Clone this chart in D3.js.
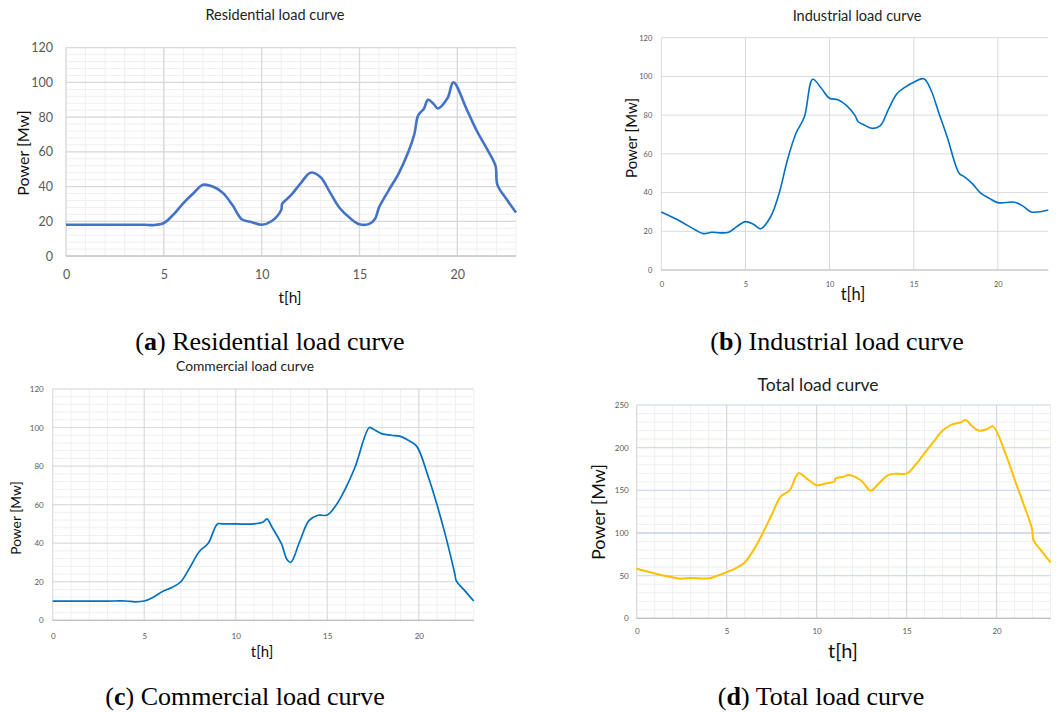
<!DOCTYPE html>
<html>
<head>
<meta charset="utf-8">
<script src="https://cdn.jsdelivr.net/npm/d3@7"></script>
<style>
  body { margin: 0; background: #fff; }
  svg { display: block; }
  .tick text { font-family: Lato, "Open Sans", sans-serif; fill: #595959; }
</style>
</head>
<body>
<svg id="chart" width="1057" height="713"></svg>
<script>
// hourly load readings (t in hours, P in MW)
var resHours = [0, 1, 2, 3, 4, 4.5, 5, 5.5, 6, 6.5, 7, 7.5, 8, 8.5, 9, 9.5, 10, 10.5, 11, 11.05, 11.5, 12, 12.5, 13, 13.5, 14, 14.5, 15, 15.5, 15.8, 16, 16.5, 17, 17.5, 17.8, 18, 18.3, 18.5, 18.8, 19, 19.5, 19.8, 20.5, 21, 21.5, 21.95, 22.05, 22.5, 23];
var resLoad  = [18, 18, 18, 18, 18, 17.8, 19, 24, 30.5, 36, 41, 40, 36.5, 29.5, 21, 19.5, 18, 20, 26.5, 30, 35, 42, 48, 45.5, 36.5, 27.5, 22, 18.3, 18.5, 21.5, 28, 38, 47.5, 60, 70, 81, 85, 90, 87.5, 85, 91, 100, 84, 72, 62, 52, 41, 33, 25];

var indHours = [0, 1, 2, 2.5, 3, 3.5, 4, 4.5, 5, 5.5, 5.9, 6.5, 7, 7.5, 8, 8.5, 9, 9.5, 10, 10.5, 11, 11.5, 11.7, 12, 12.5, 13, 13.5, 14, 14.5, 15, 15.6, 16, 16.5, 17, 17.7, 18, 18.5, 19, 19.5, 20, 21, 21.5, 22, 23];
var indLoad  = [30, 25.8, 20.8, 18.8, 19.5, 19.2, 19.5, 22.5, 25, 23.5, 21.3, 27.5, 39.5, 57, 70.5, 79, 98.5, 94, 88.7, 88, 85, 80, 76.6, 75.2, 73.2, 74.4, 83, 91, 94.5, 97, 98.8, 93.5, 81, 68.5, 50, 48.2, 44.5, 39.6, 37, 34.8, 35, 33, 30, 31];

var comHours = [0, 1, 2, 3, 4, 4.5, 5, 5.5, 6, 6.5, 7, 7.5, 8, 8.5, 9, 9.3, 10, 11, 11.5, 11.7, 12, 12.5, 12.8, 13, 13.5, 14, 14.5, 15, 15.5, 16, 16.5, 17.3, 17.5, 18, 18.5, 19, 19.5, 19.9, 20.5, 21, 21.5, 21.97, 22.05, 22.5, 23];
var comLoad  = [10, 10, 10, 10, 10, 9.6, 10, 12, 15, 17, 20, 27.5, 35.6, 40, 50, 50, 50, 50, 51, 52.6, 48, 39.6, 31.5, 30, 41, 51.7, 54.5, 54.6, 60, 68.5, 79, 100, 99.2, 96.7, 96, 95.4, 93, 90.1, 75, 59.8, 42.5, 24, 20.5, 15.5, 10];

var totHours = [0, 1, 2, 2.5, 3, 4, 4.5, 5, 5.5, 6, 6.5, 7, 7.5, 8, 8.5, 9, 9.5, 10, 10.5, 11, 11.05, 11.5, 11.8, 12.5, 13, 13.5, 14, 14.5, 15, 15.5, 16, 16.5, 17, 17.5, 18, 18.3, 18.6, 19, 19.5, 19.8, 20.5, 21, 21.5, 21.97, 22.05, 22.5, 23];
var totLoad  = [58, 52.5, 48, 46.5, 47.3, 46.8, 50, 54, 58.5, 65.5, 80, 99.6, 121, 142.5, 150, 170, 163, 156, 158, 160.5, 164, 166, 168, 161, 149.6, 159, 168, 169.5, 169.5, 180, 193.5, 207, 220, 227, 229.7, 232.4, 226, 220, 222, 225, 193, 163, 134, 105, 92, 79, 65.6];

var xTicks = [0, 5, 10, 15, 20];
var yTicks120 = [0, 20, 40, 60, 80, 100, 120];
var yTicks250 = [0, 50, 100, 150, 200, 250];

var panelTitles = ["Residential load curve", "Industrial load curve", "Commercial load curve", "Total load curve"];
var captionKeys = ["a", "b", "c", "d"];

var svg = d3.select("#chart");

function drawPanel(o) {
	var g = svg.append("g");
	var x = d3.scaleLinear().domain([0, 23]).range([o.left, o.right]);
	var y = d3.scaleLinear().domain([0, o.yMax]).range([o.bottom, o.top]);

	// minor grid
	if (o.minorY) {
		g.selectAll(".minorY")
			.data(d3.range(0, o.yMax + 0.001, o.minorY))
		.enter().append("line")
			.attr("x1", o.left).attr("x2", o.right)
			.attr("y1", function(d){ return y(d); })
			.attr("y2", function(d){ return y(d); })
			.style("stroke", "#efefef").style("stroke-width", 1);
		g.selectAll(".minorX")
			.data(d3.range(0, 24))
		.enter().append("line")
			.attr("y1", o.top).attr("y2", o.bottom)
			.attr("x1", function(d){ return x(d); })
			.attr("x2", function(d){ return x(d); })
			.style("stroke", "#efefef").style("stroke-width", 1);
	}

	// major grid
	g.selectAll(".majorY")
		.data(o.yTicks)
	.enter().append("line")
		.attr("x1", o.left).attr("x2", o.right)
		.attr("y1", function(d){ return y(d); })
		.attr("y2", function(d){ return y(d); })
		.style("stroke", function(d){ return o.yGridColor(d); })
		.style("stroke-width", o.majorW);
	g.selectAll(".majorX")
		.data(xTicks)
	.enter().append("line")
		.attr("y1", o.top).attr("y2", o.bottom)
		.attr("x1", function(d){ return x(d); })
		.attr("x2", function(d){ return x(d); })
		.style("stroke", "#d9d9d9").style("stroke-width", o.majorW);

	// axis line along y = 0
	g.append("line")
		.attr("x1", o.left).attr("x2", o.right)
		.attr("y1", y(0)).attr("y2", y(0))
		.style("stroke", "#bfbfbf").style("stroke-width", 1.2);

	// ticks
	var xa = g.append("g")
		.attr("transform", "translate(0," + (o.bottom + o.xTickGap) + ")")
		.call(d3.axisBottom(x).tickValues(xTicks).tickSize(0).tickPadding(0));
	xa.select(".domain").remove();
	xa.selectAll("text").style("font-size", o.tickSize + "px");

	var ya = g.append("g")
		.attr("transform", "translate(" + (o.left - o.yTickGap) + ",0)")
		.call(d3.axisLeft(y).tickValues(o.yTicks).tickSize(0).tickPadding(0));
	ya.select(".domain").remove();
	ya.selectAll("text").style("font-size", o.tickSize + "px");

	// curve
	var line = d3.line()
		.x(function(d){ return x(d[0]); })
		.y(function(d){ return y(d[1]); })
		.curve(d3.curveCatmullRom.alpha(0.5));
	g.append("path")
		.datum(d3.zip(o.hours, o.load))
		.attr("d", line)
		.style("fill", "none")
		.style("stroke", o.color)
		.style("stroke-width", o.lineW)
		.style("stroke-linejoin", "round");

	// texts
	g.append("text")
		.attr("x", o.titleX).attr("y", o.titleY)
		.attr("text-anchor", "middle")
		.style("font-family", "Lato, 'Open Sans', sans-serif")
		.style("font-size", o.titleSize + "px")
		.style("fill", "#222")
		.text(o.title);
	g.append("text")
		.attr("transform", "translate(" + o.yLabX + "," + o.yLabY + ") rotate(-90)")
		.attr("text-anchor", "middle")
		.style("font-family", "Lato, 'Open Sans', sans-serif")
		.style("font-size", o.yLabSize + "px")
		.style("fill", "#111")
		.text("Power [Mw]");
	g.append("text")
		.attr("x", o.xLabX).attr("y", o.xLabY)
		.attr("text-anchor", "middle")
		.style("font-family", "Lato, 'Open Sans', sans-serif")
		.style("font-size", o.xLabSize + "px")
		.style("fill", "#111")
		.text("t[h]");

	// caption below the panel
	var cap = g.append("text")
		.attr("x", o.capX).attr("y", o.capY)
		.attr("text-anchor", "middle")
		.style("font-family", "'Liberation Serif', 'DejaVu Serif', serif")
		.style("font-size", "26px")
		.style("fill", "#000");
	cap.append("tspan").text("(");
	cap.append("tspan").style("font-weight", "bold").text(o.key);
	cap.append("tspan").text(") " + o.title);
}

var grayGrid = function(){ return "#d9d9d9"; };

drawPanel({
	hours: resHours, load: resLoad, title: panelTitles[0], key: captionKeys[0],
	left: 66, right: 516, top: 47.7, bottom: 256, yMax: 120, yTicks: yTicks120,
	minorY: 4, majorW: 1.3, yGridColor: grayGrid,
	color: "#4472c4", lineW: 2.6,
	tickSize: 12.5, xTickGap: 14, yTickGap: 13,
	titleX: 275, titleY: 20, titleSize: 14.5,
	yLabX: 29, yLabY: 153, yLabSize: 16,
	xLabX: 290, xLabY: 303, xLabSize: 15.5,
	capX: 270, capY: 350
});

drawPanel({
	hours: indHours, load: indLoad, title: panelTitles[1], key: captionKeys[1],
	left: 661.3, right: 1048.3, top: 37.7, bottom: 270, yMax: 120, yTicks: yTicks120,
	minorY: 0, majorW: 1, yGridColor: grayGrid,
	color: "#0070c0", lineW: 1.6,
	tickSize: 7.5, xTickGap: 12, yTickGap: 9,
	titleX: 857, titleY: 21, titleSize: 14.5,
	yLabX: 637, yLabY: 138, yLabSize: 15,
	xLabX: 853, xLabY: 300, xLabSize: 16.5,
	capX: 837, capY: 350
});

drawPanel({
	hours: comHours, load: comLoad, title: panelTitles[2], key: captionKeys[2],
	left: 52.7, right: 473.7, top: 389, bottom: 620.3, yMax: 120, yTicks: yTicks120,
	minorY: 4, majorW: 1, yGridColor: grayGrid,
	color: "#0070c0", lineW: 1.7,
	tickSize: 8, xTickGap: 13, yTickGap: 9,
	titleX: 245, titleY: 371, titleSize: 13.8,
	yLabX: 21, yLabY: 518, yLabSize: 13.8,
	xLabX: 262, xLabY: 657, xLabSize: 15,
	capX: 245, capY: 705
});

drawPanel({
	hours: totHours, load: totLoad, title: panelTitles[3], key: captionKeys[3],
	left: 636.7, right: 1050.5, top: 405, bottom: 618.3, yMax: 250, yTicks: yTicks250,
	minorY: 10, majorW: 1.2,
	yGridColor: function(d){ return d === 100 ? "#b4c3de" : "#d0dcf0"; },
	color: "#ffc000", lineW: 2,
	tickSize: 8, xTickGap: 10, yTickGap: 8,
	titleX: 818, titleY: 391, titleSize: 17.5,
	yLabX: 605, yLabY: 512, yLabSize: 18,
	xLabX: 843, xLabY: 658, xLabSize: 20,
	capX: 821, capY: 705
});
</script>
</body>
</html>
